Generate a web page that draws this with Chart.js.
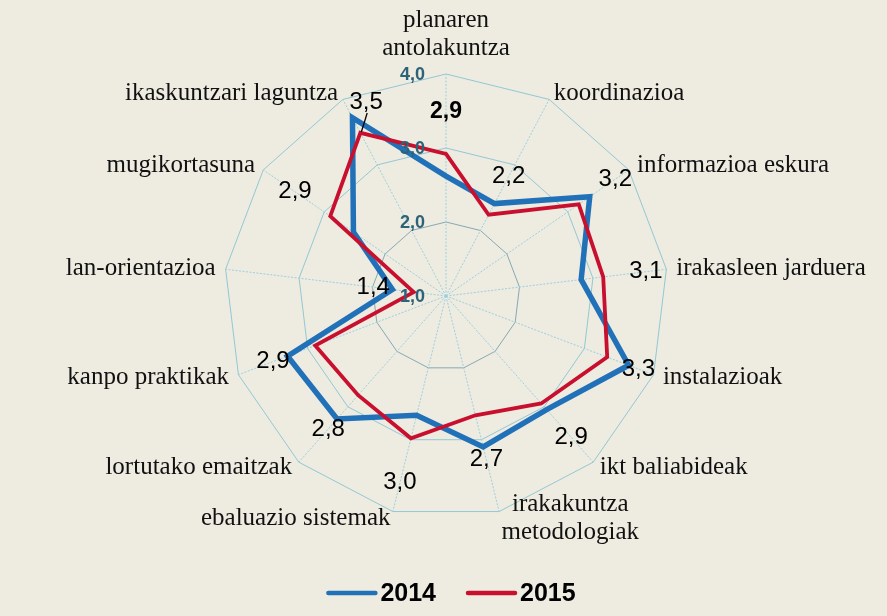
<!DOCTYPE html>
<html>
<head>
<meta charset="utf-8">
<script src="https://cdn.jsdelivr.net/npm/chart.js@4.4.1/dist/chart.umd.min.js"></script>
<style>
  html, body { margin: 0; padding: 0; background: #EEEBE1; }
  #wrap { width: 887px; height: 616px; position: relative; }
</style>
</head>
<body>
<div id="wrap"><canvas id="c" width="887" height="616"></canvas></div>
<script>
// ---- data ----
const CATEGORIES = [
  ['planaren', 'antolakuntza'],
  'koordinazioa',
  'informazioa eskura',
  'irakasleen jarduera',
  'instalazioak',
  'ikt baliabideak',
  ['irakakuntza', 'metodologiak'],
  'ebaluazio sistemak',
  'lortutako emaitzak',
  'kanpo praktikak',
  'lan-orientazioa',
  'mugikortasuna',
  'ikaskuntzari laguntza'
];
const SERIES_NAMES = ['2014', '2015'];
const VALUES_2014 = [2.62, 2.41, 3.36, 2.84, 3.64, 3.05, 3.1, 2.66, 3.22, 3.29, 1.73, 2.52, 3.72];
const VALUES_2015 = [2.92, 2.24, 3.18, 3.14, 3.33, 2.94, 2.66, 2.98, 2.79, 2.89, 1.44, 2.9, 3.49];
const TICK_VALUES = [1, 2, 3, 4];

// ---- styling / layout (not data) ----
const BLUE = '#2171B8';
const RED = '#C8102E';
const BG = '#EEEBE1';
// radial position (in scale units) where each 2015 value label sits, plus a sideways nudge in px
const VALUE_LABEL_AT = [3.49, 2.82, 3.78, 3.72, 3.78, 3.55, 3.28, 3.6, 3.4, 3.5, 1.99, 3.48, 3.96];
const VALUE_LABEL_NUDGE_X = [0, 0, 0, 0, 0, 0, 0, 0, 0, 0, 0, 0, 22];

function fmt(v) { return v.toFixed(1).replace('.', ','); }

const overlay = {
  id: 'overlay',
  beforeDraw(chart) {
    const ctx = chart.ctx;
    ctx.save();
    ctx.fillStyle = BG;
    ctx.fillRect(0, 0, chart.width, chart.height);
    ctx.restore();
  },
  afterDatasetsDraw(chart) {
    const ctx = chart.ctx;
    const s = chart.scales.r;
    ctx.save();

    // category labels
    ctx.font = '25px "Liberation Serif", "Times New Roman", serif';
    ctx.fillStyle = '#111';
    ctx.textBaseline = 'middle';
    const lineH = 28;
    chart.data.labels.forEach((lab, i) => {
      const a = s.getIndexAngle(i);
      const p = s.getPointPosition(i, s.drawingArea);
      const sn = Math.sin(a), cs = Math.cos(a);
      const x = p.x + 10 * sn;
      const y = p.y - 7 * cs;
      const lines = Array.isArray(lab) ? lab : [lab];
      if (Math.abs(sn) < 0.05) {
        ctx.textAlign = 'center';
        lines.forEach((t, k) => {
          ctx.fillText(t, x, p.y - 26 - (lines.length - 1 - k) * lineH);
        });
        return;
      }
      if (lines.length > 1) {
        const widths = lines.map(t => ctx.measureText(t).width);
        const bw = Math.max(...widths);
        const cx = sn > 0 ? x + bw / 2 : x - bw / 2;
        ctx.textAlign = 'center';
        lines.forEach((t, k) => {
          ctx.fillText(t, cx, y + (k - (lines.length - 1) / 2) * lineH);
        });
      } else {
        ctx.textAlign = sn > 0 ? 'left' : 'right';
        ctx.fillText(lines[0], x, y);
      }
    });

    // value labels for 2015
    const ds = chart.data.datasets[1];
    ds.data.forEach((v, i) => {
      const base = s.getPointPosition(i, s.getDistanceFromCenterForValue(VALUE_LABEL_AT[i]));
      const pos = { x: base.x + VALUE_LABEL_NUDGE_X[i], y: base.y };
      ctx.textAlign = 'center';
      ctx.textBaseline = 'middle';
      ctx.fillStyle = '#000';
      if (i === 0) {
        ctx.font = 'bold 23px "Liberation Sans Narrow", "Liberation Sans", Arial, sans-serif';
      } else {
        ctx.font = '24px "Liberation Sans", Arial, sans-serif';
      }
      ctx.fillText(fmt(v), pos.x, pos.y);
      if (i === chart.data.labels.length - 1) {
        const pt = s.getPointPosition(i, s.getDistanceFromCenterForValue(v));
        ctx.strokeStyle = '#000';
        ctx.lineWidth = 1.3;
        ctx.beginPath();
        ctx.moveTo(pos.x + 1, pos.y + 11);
        ctx.lineTo(pt.x + 1, pt.y - 1);
        ctx.stroke();
      }
    });

    // tick labels
    ctx.font = 'bold 18px "Liberation Sans", Arial, sans-serif';
    ctx.fillStyle = '#2C6376';
    ctx.textAlign = 'right';
    ctx.textBaseline = 'middle';
    TICK_VALUES.forEach(v => {
      const d = s.getDistanceFromCenterForValue(v);
      ctx.fillText(fmt(v), s.xCenter - 21, s.yCenter - d + 1);
    });

    // legend
    ctx.font = 'bold 25px "Liberation Sans", Arial, sans-serif';
    ctx.textAlign = 'left';
    const sample = 51, gap = 3, spacing = 30;
    const items = chart.data.datasets.map(d => ({ text: d.label, color: d.borderColor, w: ctx.measureText(d.label).width }));
    const total = items.reduce((acc, it) => acc + sample + gap + it.w, 0) + spacing * (items.length - 1);
    let lx = 451 - total / 2;
    const ly = 593;
    items.forEach(it => {
      ctx.strokeStyle = it.color;
      ctx.lineWidth = 4.5;
      ctx.lineCap = 'round';
      ctx.beginPath();
      ctx.moveTo(lx + 2, ly);
      ctx.lineTo(lx + sample - 2, ly);
      ctx.stroke();
      ctx.fillStyle = '#000';
      ctx.fillText(it.text, lx + sample + gap, ly + 1);
      lx += sample + gap + it.w + spacing;
    });
    ctx.restore();
  }
};

new Chart(document.getElementById('c'), {
  type: 'radar',
  data: {
    labels: CATEGORIES,
    datasets: [
      { label: SERIES_NAMES[0], data: VALUES_2014, borderColor: BLUE, backgroundColor: 'transparent',
        borderWidth: 5.5, pointRadius: 0, fill: false, borderJoinStyle: 'miter', order: 1 },
      { label: SERIES_NAMES[1], data: VALUES_2015, borderColor: RED, backgroundColor: 'transparent',
        borderWidth: 3.8, pointRadius: 0, fill: false, borderJoinStyle: 'miter', order: 0 }
    ]
  },
  options: {
    responsive: false,
    animation: false,
    devicePixelRatio: 1,
    layout: { padding: { left: 224, right: 219, top: 74, bottom: 98 } },
    plugins: { legend: { display: false }, tooltip: { enabled: false } },
    scales: {
      r: {
        min: 1, max: 4,
        ticks: { display: false, stepSize: 1 },
        pointLabels: { display: false },
        grid: {
          circular: false,
          lineWidth: 1,
          color: ctx => (ctx.index === 1 ? '#86AAB2' : '#93C8D5')
        },
        angleLines: { color: '#9BD1DF', lineWidth: 1, borderDash: [2, 1.5] }
      }
    }
  },
  plugins: [overlay]
});
</script>
</body>
</html>
